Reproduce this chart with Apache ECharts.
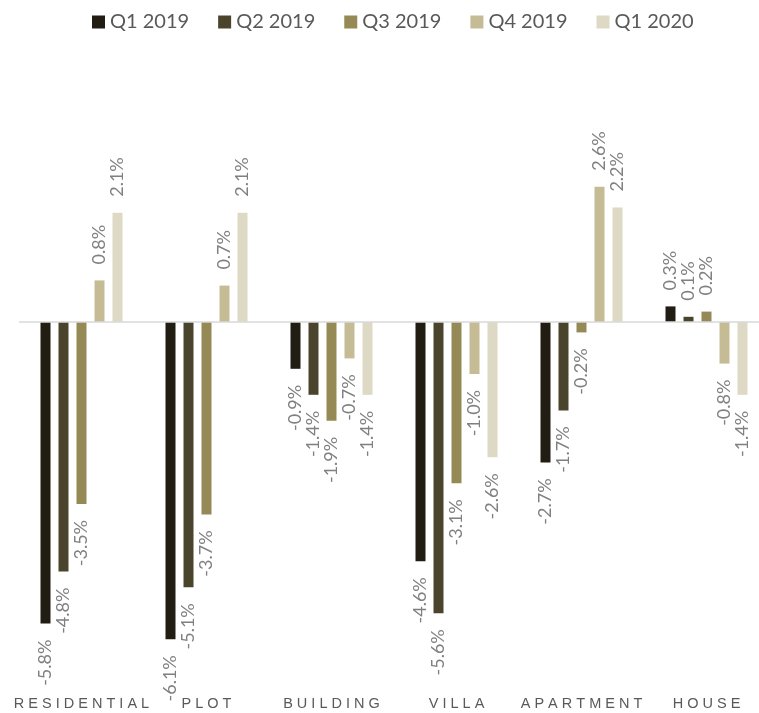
<!DOCTYPE html>
<html>
<head>
<meta charset="utf-8">
<script src="https://cdn.jsdelivr.net/npm/echarts@6/dist/echarts.min.js"></script>
<style>
  html, body { margin: 0; padding: 0; background: #ffffff; }
  #chart { width: 759px; height: 713px; }
</style>
</head>
<body>
<div id="chart"></div>
<script>
// Price change by property type, quarter over quarter (%)
const categories = ['RESIDENTIAL', 'PLOT', 'BUILDING', 'VILLA', 'APARTMENT', 'HOUSE'];
const seriesNames = ['Q1 2019', 'Q2 2019', 'Q3 2019', 'Q4 2019', 'Q1 2020'];
const q1_2019 = [-5.8, -6.1, -0.9, -4.6, -2.7, 0.3];
const q2_2019 = [-4.8, -5.1, -1.4, -5.6, -1.7, 0.1];
const q3_2019 = [-3.5, -3.7, -1.9, -3.1, -0.2, 0.2];
const q4_2019 = [0.8, 0.7, -0.7, -1.0, 2.6, -0.8];
const q1_2020 = [2.1, 2.1, -1.4, -2.6, 2.2, -1.4];
const colors = ['#211d13', '#4b442d', '#958a55', '#c5bc96', '#ded9c4'];

const seriesValues = [q1_2019, q2_2019, q3_2019, q4_2019, q1_2020];

const labelFont = 'Lato, "Open Sans", sans-serif';

// Positive values get their label above the bar, negative ones below it
function withLabels(values) {
  return values.map(v => ({
    value: v,
    label: v >= 0
      ? { position: 'top', align: 'left', verticalAlign: 'middle' }
      : { position: 'bottom', align: 'right', verticalAlign: 'middle' }
  }));
}

const series = seriesValues.map((vals, i) => {
  const s = {
    name: seriesNames[i],
    type: 'bar',
    barWidth: 10,
    barGap: '80%',
    itemStyle: { color: colors[i] },
    label: {
      show: true,
      rotate: 90,
      distance: 16,
      color: '#808080',
      fontSize: 18,
      fontFamily: labelFont,
      formatter: p => p.value.toFixed(1) + '%'
    },
    data: withLabels(vals)
  };
  if (i === 0) {
    s.markLine = {
      silent: true,
      symbol: 'none',
      label: { show: false },
      lineStyle: { color: '#d9d9d9', width: 1.5, type: 'solid' },
      data: [{ yAxis: 0 }]
    };
  }
  return s;
});

const chart = echarts.init(document.getElementById('chart'));
chart.setOption({
  animation: false,
  color: colors,
  legend: {
    top: 7,
    left: 87,
    itemWidth: 13,
    itemHeight: 13,
    itemGap: 29,
    icon: 'rect',
    textStyle: { color: '#595959', fontSize: 20, fontFamily: labelFont },
    data: seriesNames
  },
  grid: { left: 19, top: 166, width: 750, height: 520, outerBoundsMode: 'none' },
  xAxis: {
    type: 'category',
    data: categories,
    axisLine: { show: false, onZero: false },
    axisTick: { show: false },
    axisLabel: {
      interval: 0,
      margin: 10,
      color: '#595959',
      fontSize: 14.5,
      fontFamily: '"Liberation Sans", Arial, sans-serif',
      formatter: v => v.split('').join(' ')
    }
  },
  yAxis: {
    type: 'value',
    min: -7,
    max: 3,
    show: false,
    splitLine: { show: false }
  },
  series: series
});
</script>
</body>
</html>
